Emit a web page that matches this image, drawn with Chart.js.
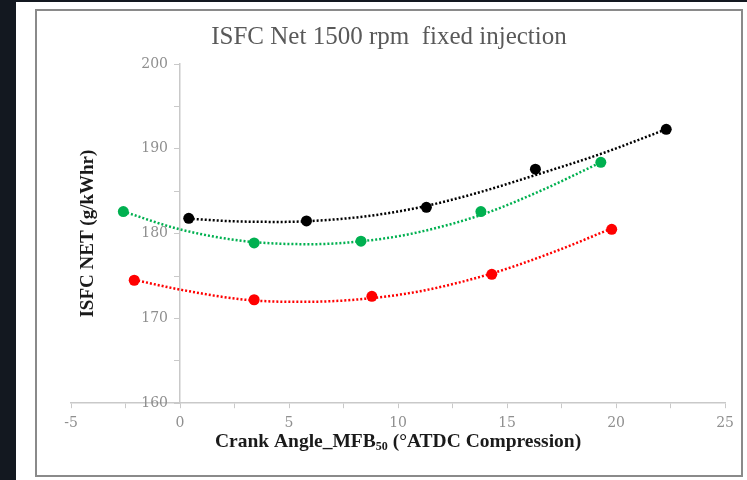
<!DOCTYPE html>
<html>
<head>
<meta charset="utf-8">
<script src="https://cdn.jsdelivr.net/npm/chart.js@4"></script>
<style>
  body { margin: 0; background: #131820; width: 747px; height: 480px; overflow: hidden; }
  #panel { position: absolute; left: 16px; top: 2px; width: 731px; height: 478px; background: #fff; }
  #frame { position: absolute; left: 35px; top: 9px; width: 704px; height: 464px; border: 2px solid #8a8a8a; }
  #wrap { position: absolute; left: 37px; top: 11px; width: 704px; height: 464px; }
</style>
</head>
<body>
<div id="panel"></div>
<div id="frame"></div>
<div id="wrap"><canvas id="chart" width="704" height="464"></canvas></div>
<script>
const chartTitle = 'ISFC Net 1500 rpm  fixed injection';
const xTitleParts = ['Crank Angle_MFB', '50', ' (\u00b0ATDC Compression)'];
const yTitle = 'ISFC NET (g/kWhr)';

// measured points
const blackX = [0.4, 5.8, 11.3, 16.3, 22.3];
const blackY = [181.8, 181.5, 183.1, 187.6, 192.3];
const greenX = [-2.6, 3.4, 8.3, 13.8, 19.3];
const greenY = [182.6, 178.9, 179.1, 182.6, 188.4];
const redX = [-2.1, 3.4, 8.8, 14.3, 19.8];
const redY = [174.5, 172.2, 172.6, 175.2, 180.5];

// trendlines
const blackTrendX = [0.4, 2.5, 4.6, 7, 9, 11, 13.5, 16.3, 19.3, 22.3];
const blackTrendY = [181.75, 181.45, 181.38, 181.65, 182.2, 183.1, 184.7, 186.9, 189.4, 192.3];
const greenTrendX = [-2.6, 0, 3, 6, 9, 11, 13.8, 16.5, 19.3];
const greenTrendY = [182.6, 180.5, 179.1, 178.75, 179.3, 180.2, 182.2, 185.0, 188.4];
const redTrendX = [-2.1, 0, 3, 5.5, 8, 11, 14.3, 17, 19.8];
const redTrendY = [174.55, 173.4, 172.2, 171.95, 172.2, 173.2, 175.3, 177.7, 180.6];

const xTicks = { min: -5, max: 25, step: 2.5, labelEvery: 5 };
const yTicks = { min: 160, max: 200, step: 5, labelEvery: 10 };

const serif = '"Liberation Serif", "DejaVu Serif", serif';
const tickFont = '"DejaVu Serif", serif';
const tickGray = '#8f8f8f';
const axisGray = '#c9c9c9';

function toPoints(xs, ys) {
    return xs.map((x, i) => ({ x: x, y: ys[i] }));
}

function pointSet(label, xs, ys, color) {
    return {
        label: label, data: toPoints(xs, ys), showLine: false,
        pointRadius: 5.5, pointHoverRadius: 5.5, pointBorderWidth: 0,
        pointBackgroundColor: color, borderColor: color, order: 1
    };
}

function trendSet(label, xs, ys, color) {
    return {
        label: label, data: toPoints(xs, ys), showLine: true, pointRadius: 0,
        borderColor: color, borderWidth: 2.5, borderDash: [2, 2],
        cubicInterpolationMode: 'monotone', fill: false, order: 2
    };
}

// title, axis titles and the y tick labels (a centred axis ignores tick padding)
const decorations = {
    id: 'decorations',
    afterDraw(chart) {
        const ctx = chart.ctx;
        const area = chart.chartArea;
        const yScale = chart.scales.y;
        const axisX = chart.scales.x.getPixelForValue(0);
        ctx.save();
        ctx.textBaseline = 'middle';

        ctx.fillStyle = '#595959';
        ctx.font = '25px ' + serif;
        ctx.textAlign = 'center';
        ctx.fillText(chartTitle, chart.width / 2, 26);

        ctx.fillStyle = tickGray;
        ctx.font = '14px ' + tickFont;
        ctx.textAlign = 'right';
        yScale.ticks.forEach(t => {
            if (t.value % yTicks.labelEvery !== 0) return;
            ctx.fillText(String(t.value), axisX - 12, yScale.getPixelForValue(t.value));
        });

        ctx.fillStyle = '#1a1a1a';
        const big = 'bold 19.5px ' + serif;
        const small = 'bold 12px ' + serif;
        ctx.font = big;
        const w0 = ctx.measureText(xTitleParts[0]).width;
        const w2 = ctx.measureText(xTitleParts[2]).width;
        ctx.font = small;
        const w1 = ctx.measureText(xTitleParts[1]).width;
        let x = (area.left + area.right) / 2 - (w0 + w1 + w2) / 2;
        const y = area.bottom + 39;
        ctx.textAlign = 'left';
        ctx.font = big;
        ctx.fillText(xTitleParts[0], x, y);
        x += w0;
        ctx.font = small;
        ctx.fillText(xTitleParts[1], x, y + 5);
        x += w1;
        ctx.font = big;
        ctx.fillText(xTitleParts[2], x, y);

        ctx.font = 'bold 19px ' + serif;
        ctx.translate(area.left + 17, (area.top + area.bottom) / 2);
        ctx.rotate(-Math.PI / 2);
        ctx.textAlign = 'center';
        ctx.fillText(yTitle, 0, 0);
        ctx.restore();
    }
};

new Chart(document.getElementById('chart'), {
    type: 'scatter',
    data: {
        datasets: [
            pointSet('Series 1', blackX, blackY, '#000000'),
            pointSet('Series 2', greenX, greenY, '#00b050'),
            pointSet('Series 3', redX, redY, '#ff0000'),
            trendSet('Trend 1', blackTrendX, blackTrendY, '#000000'),
            trendSet('Trend 2', greenTrendX, greenTrendY, '#00b050'),
            trendSet('Trend 3', redTrendX, redTrendY, '#ff0000')
        ]
    },
    options: {
        responsive: false,
        animation: false,
        layout: { padding: { left: 34, right: 15, top: 53, bottom: 36 } },
        plugins: {
            legend: { display: false },
            tooltip: { enabled: false },
            title: { display: false }
        },
        scales: {
            x: {
                type: 'linear', position: 'bottom',
                min: xTicks.min, max: xTicks.max,
                grid: { drawOnChartArea: false, color: axisGray, tickLength: 5 },
                border: { color: axisGray, width: 1.5 },
                ticks: {
                    stepSize: xTicks.step, autoSkip: false, maxRotation: 0,
                    color: tickGray, font: { family: tickFont, size: 14 }, padding: 7,
                    callback: v => (v % xTicks.labelEvery === 0 ? String(v) : '')
                }
            },
            y: {
                type: 'linear', position: { x: 0 },
                min: yTicks.min, max: yTicks.max,
                afterFit(scale) { scale.width = 0; },
                grid: { drawOnChartArea: false, color: axisGray, tickLength: 5 },
                border: { color: axisGray, width: 1.5 },
                ticks: { stepSize: yTicks.step, autoSkip: false, display: false }
            }
        }
    },
    plugins: [decorations]
});
</script>
</body>
</html>
